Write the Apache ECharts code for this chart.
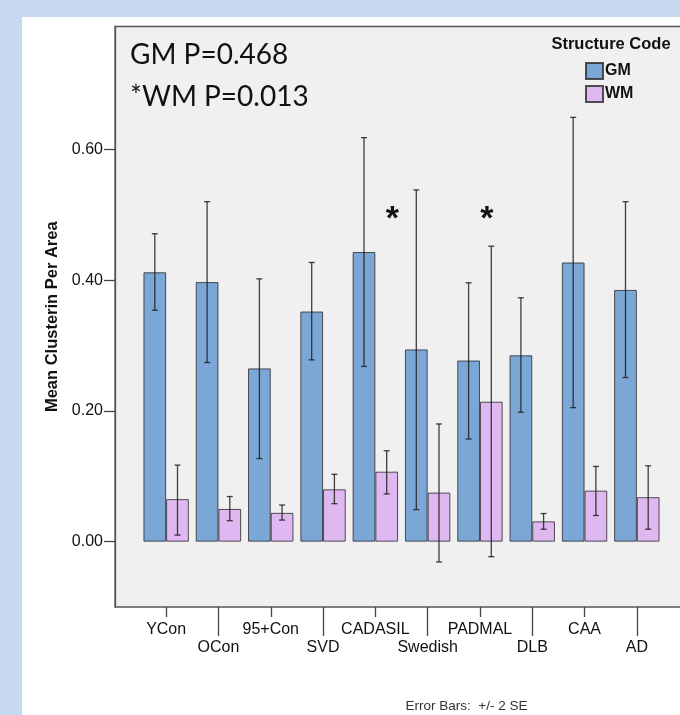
<!DOCTYPE html>
<html>
<head>
<meta charset="utf-8">
<script src="https://cdn.jsdelivr.net/npm/echarts@6/dist/echarts.min.js"></script>
<style>html,body{margin:0;padding:0;background:#c6d9f1;}#c{width:680px;height:715px;}</style>
</head>
<body>
<div id="c"></div>
<script>
const categories = ['YCon','OCon','95+Con','SVD','CADASIL','Swedish','PADMAL','DLB','CAA','AD'];
const gmMean = [0.412, 0.397, 0.265, 0.352, 0.443, 0.294, 0.277, 0.285, 0.427, 0.385];
const gmLow  = [0.354, 0.274, 0.127, 0.278, 0.268, 0.049, 0.157, 0.198, 0.205, 0.251];
const gmHigh = [0.471, 0.520, 0.402, 0.427, 0.618, 0.538, 0.396, 0.373, 0.649, 0.520];
const wmMean = [0.065, 0.050, 0.044, 0.080, 0.107, 0.075, 0.214, 0.031, 0.078, 0.068];
const wmLow  = [0.010, 0.032, 0.033, 0.058, 0.073, -0.031, -0.023, 0.019, 0.040, 0.019];
const wmHigh = [0.117, 0.069, 0.056, 0.103, 0.139, 0.180, 0.452, 0.043, 0.115, 0.116];
const yTicks = [0, 0.2, 0.4, 0.6];
const starCats = [4, 6];
const starValue = [0.503, 0.503];
const starShift = [17, 7];

const FONT = "'Liberation Sans', Arial, sans-serif";
const BAR_FRAC = 0.434;

function errSeries(name, low, high, sign) {
  return {
    type: 'custom',
    name: name + ' err',
    silent: true,
    z: 5,
    data: low.map((l, i) => [i, l, high[i]]),
    encode: { x: 0, y: [1, 2] },
    renderItem: function (params, api) {
      const i = api.value(0);
      const band = api.size([1, 0])[0];
      const x = api.coord([i, 0])[0] + sign * band * BAR_FRAC / 2;
      const y1 = api.coord([i, api.value(1)])[1];
      const y2 = api.coord([i, api.value(2)])[1];
      const c = 3;
      const st = { stroke: 'rgba(30,30,30,0.85)', lineWidth: 1.3 };
      return {
        type: 'group',
        children: [
          { type: 'line', shape: { x1: x, y1: y1, x2: x, y2: y2 }, style: st },
          { type: 'line', shape: { x1: x - c, y1: y1, x2: x + c, y2: y1 }, style: st },
          { type: 'line', shape: { x1: x - c, y1: y2, x2: x + c, y2: y2 }, style: st }
        ]
      };
    }
  };
}

const chart = echarts.init(document.getElementById('c'));
chart.setOption({
  backgroundColor: '#c6d9f1',
  animation: false,
  graphic: [
    { type: 'rect', z: -10, silent: true, shape: { x: 22, y: 17, width: 700, height: 720 }, style: { fill: '#ffffff' } },
    { type: 'rect', z: -5, silent: true, shape: { x: 115, y: 26.5, width: 600, height: 580.5 }, style: { fill: '#f0f0f0', stroke: '#555', lineWidth: 1.3 } },
    { type: 'text', z: 10, style: { x: 130, y: 55, text: 'GM P=0.468', font: "28px Lato, 'Liberation Sans', sans-serif", fill: '#111', textVerticalAlign: 'middle' } },
    { type: 'text', z: 10, style: { x: 130, y: 97, text: '*WM P=0.013', font: "28px Lato, 'Liberation Sans', sans-serif", fill: '#111', textVerticalAlign: 'middle' } },
    { type: 'text', z: 10, style: { x: 611, y: 44, text: 'Structure Code', font: "bold 16.5px 'Liberation Sans', Arial, sans-serif", fill: '#111', textAlign: 'center', textVerticalAlign: 'middle' } },
    { type: 'text', z: 10, style: { x: 466.5, y: 706, text: 'Error Bars:  +/- 2 SE', font: "13.5px 'Liberation Sans', Arial, sans-serif", fill: '#333', textAlign: 'center', textVerticalAlign: 'middle' } }
  ],
  legend: {
    data: ['GM', 'WM'],
    orient: 'vertical',
    left: 585, top: 62,
    itemWidth: 17, itemHeight: 16, itemGap: 5,
    icon: 'rect',
    padding: 0,
    textStyle: { fontFamily: FONT, fontWeight: 'bold', fontSize: 16, color: '#111', padding: [0, 0, 0, -3] }
  },
  grid: { left: 140, right: 17, top: 26.5, bottom: 108, containLabel: false },
  xAxis: [
    {
      type: 'category', data: categories, position: 'bottom',
      axisLine: { show: false, onZero: false },
      axisTick: { show: true, alignWithLabel: true, length: 10, interval: (i) => i % 2 === 0, lineStyle: { color: '#444', width: 1.3 } },
      axisLabel: { interval: (i) => i % 2 === 0, margin: 15, fontFamily: FONT, fontSize: 16, color: '#111' }
    },
    {
      type: 'category', data: categories, position: 'bottom',
      axisLine: { show: false, onZero: false },
      axisTick: { show: true, alignWithLabel: true, length: 29, interval: (i) => i % 2 === 1, lineStyle: { color: '#444', width: 1.3 } },
      axisLabel: { interval: (i) => i % 2 === 1, margin: 33, fontFamily: FONT, fontSize: 16, color: '#111' }
    }
  ],
  yAxis: {
    type: 'value', min: -0.1, max: 0.788, offset: 25,
    name: 'Mean Clusterin Per Area', nameLocation: 'middle', nameRotate: 90, nameGap: 53,
    nameTextStyle: { fontFamily: FONT, fontWeight: 'bold', fontSize: 16.5, color: '#111' },
    axisLine: { show: true, lineStyle: { color: '#555', width: 1.3 } },
    axisTick: { show: true, length: 11, customValues: yTicks, lineStyle: { color: '#444', width: 1.3 } },
    axisLabel: { customValues: yTicks, margin: 12, fontFamily: FONT, fontSize: 16, color: '#111', formatter: (v) => v.toFixed(2) },
    splitLine: { show: false }
  },
  series: [
    { name: 'GM', type: 'bar', data: gmMean, barWidth: (BAR_FRAC * 100) + '%', barGap: '0%',
      itemStyle: { color: '#7ba7d6', borderColor: 'rgba(40,40,40,0.8)', borderWidth: 1 } },
    { name: 'WM', type: 'bar', data: wmMean, barWidth: (BAR_FRAC * 100) + '%', barGap: '0%',
      itemStyle: { color: '#dfb8f1', borderColor: 'rgba(40,40,40,0.8)', borderWidth: 1 } },
    errSeries('GM', gmLow, gmHigh, -1),
    errSeries('WM', wmLow, wmHigh, 1),
    { type: 'custom', name: 'stars', silent: true, z: 6,
      data: starCats.map((c, i) => [c, starValue[i], starShift[i]]),
      encode: { x: 0, y: 1 },
      renderItem: function (params, api) {
        const p = api.coord([api.value(0), api.value(1)]);
        return { type: 'text', style: { x: p[0] + api.value(2), y: p[1] + 7, text: '*', font: "bold 34px 'Liberation Sans', Arial, sans-serif", fill: '#111', textAlign: 'center', textVerticalAlign: 'middle' } };
      }
    }
  ]
});
</script>
</body>
</html>
